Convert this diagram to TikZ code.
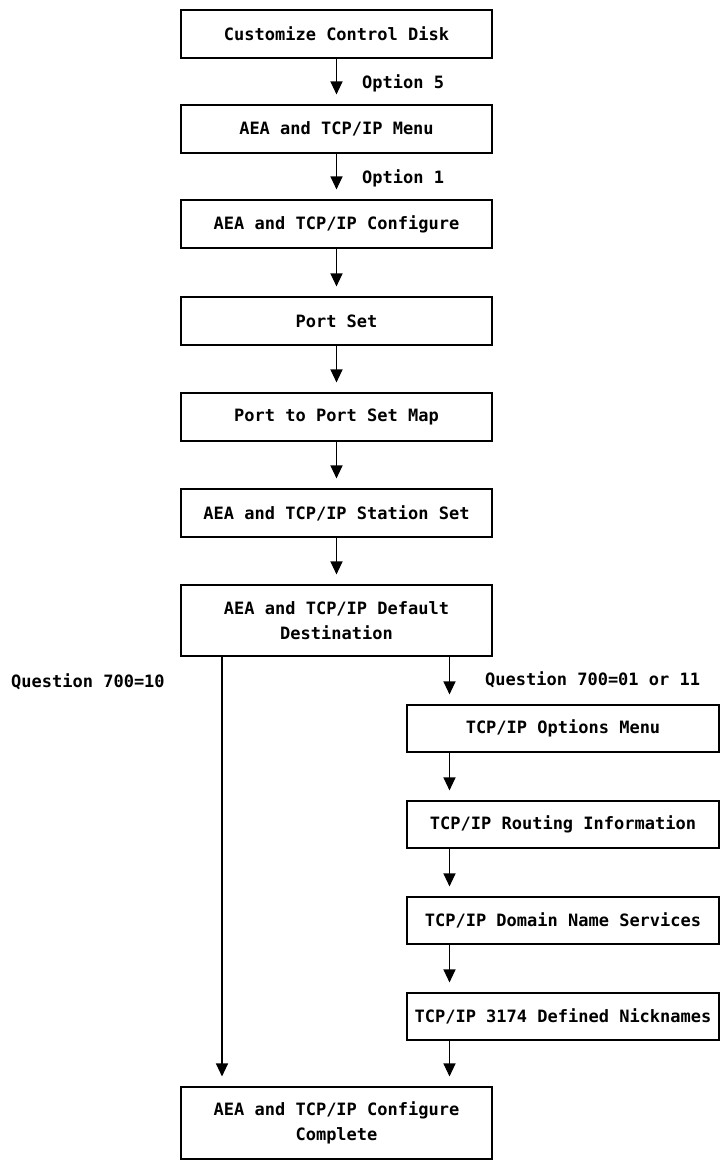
\documentclass[tikz,border=0pt]{standalone}
\usepackage{fontspec}
\newfontfamily\diagfont{DejaVu Sans Mono}
\usetikzlibrary{arrows.meta}
\begin{document}
\begin{tikzpicture}[x=1pt,y=-1pt,
  every node/.style={font=\diagfont\bfseries\fontsize{17}{25}\selectfont},
  box/.style={draw, line width=1.1pt, minimum width=311pt, minimum height=48pt, inner sep=0pt, align=center},
  rbox/.style={box, minimum width=312pt, minimum height=47pt},
  tallbox/.style={box, minimum height=71pt},
  lbl/.style={anchor=west, inner sep=0pt},
  flow/.style={line width=1.1pt, -{Triangle[length=13pt,width=12pt]}, shorten >=10pt}
]
\useasboundingbox (0,0) rectangle (723,1163);
% main column
\node[box] (b1) at (336.5,34) {Customize Control Disk};
\node[box] (b2) at (336.5,129) {AEA and TCP/IP Menu};
\node[box] (b3) at (336.5,224) {AEA and TCP/IP Configure};
\node[box] (b4) at (336.5,321) {Port Set};
\node[box] (b5) at (336.5,417) {Port to Port Set Map};
\node[box] (b6) at (336.5,513) {AEA and TCP/IP Station Set};
\node[tallbox] (b7) at (336.5,620.5) {AEA and TCP/IP Default\\Destination};
% right column
\node[rbox] (r1) at (563,728.5) {TCP/IP Options Menu};
\node[rbox] (r2) at (563,824.5) {TCP/IP Routing Information};
\node[rbox] (r3) at (563,920.5) {TCP/IP Domain Name Services};
\node[rbox] (r4) at (563,1016.5) {TCP/IP 3174 Defined Nicknames};
% final
\node[box, minimum height=72pt] (fin) at (336.5,1123) {AEA and TCP/IP Configure\\Complete};
% labels
\node[lbl] (l1) at (362,83) {Option 5};
\node[lbl] (l2) at (362,178) {Option 1};
\node[lbl] (l3) at (11,682) {Question 700=10};
\node[lbl] (l4) at (485,680) {Question 700=01 or 11};
% helper x positions
\coordinate (lx) at (222,0);
\coordinate (rx) at (449.5,0);
% connectors
\draw[flow] (b1.south) -- (b2.north);
\draw[flow] (b2.south) -- (b3.north);
\draw[flow] (b3.south) -- (b4.north);
\draw[flow] (b4.south) -- (b5.north);
\draw[flow] (b5.south) -- (b6.north);
\draw[flow] (b6.south) -- (b7.north);
\draw[flow] (b7.south -| rx) -- (r1.north -| rx);
\draw[flow] (r1.south -| rx) -- (r2.north -| rx);
\draw[flow] (r2.south -| rx) -- (r3.north -| rx);
\draw[flow] (r3.south -| rx) -- (r4.north -| rx);
\draw[flow] (r4.south -| rx) -- (fin.north -| rx);
\draw[flow] (b7.south -| lx) -- (fin.north -| lx);
\end{tikzpicture}
\end{document}
